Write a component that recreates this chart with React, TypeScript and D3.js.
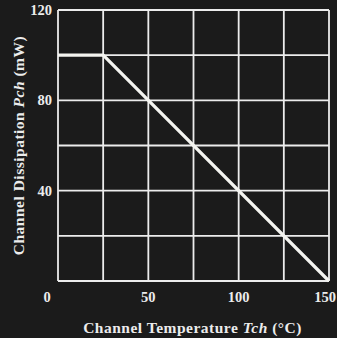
import { useEffect, useRef } from "react";
import * as d3 from "d3";

// derating curve: channel temperature (°C) vs max dissipation (mW)
const tempC = [0, 25, 150];
const powerMW = [100, 100, 0];

const xGridTicks = [0, 25, 50, 75, 100, 125, 150];
const yGridTicks = [0, 20, 40, 60, 80, 100, 120];
const xLabelTicks = [50, 100, 150];
const yLabelTicks = [40, 80, 120];

const W = 337;
const H = 338;
const BG = "#1b1b1b";
const FG = "#ececec";
const FONT = "'Liberation Serif', 'DejaVu Serif', serif";

export default function App() {
  const svgRef = useRef<SVGSVGElement>(null);

  useEffect(() => {
    if (!svgRef.current) return;
    const svg = d3.select(svgRef.current);
    svg.selectAll("*").remove();

    const margin = { top: 10, right: 8, bottom: 57, left: 58 };
    const width = W - margin.left - margin.right;
    const height = H - margin.top - margin.bottom;

    svg.append("rect").attr("width", W).attr("height", H).attr("fill", BG);

    const g = svg.append("g").attr("transform", `translate(${margin.left},${margin.top})`);

    const x = d3.scaleLinear().domain([0, 150]).range([0, width]);
    const y = d3.scaleLinear().domain([0, 120]).range([height, 0]);

    // grid
    g.selectAll(".vgrid")
      .data(xGridTicks)
      .enter()
      .append("line")
      .attr("x1", d => x(d))
      .attr("x2", d => x(d))
      .attr("y1", 0)
      .attr("y2", height)
      .attr("stroke", FG)
      .attr("stroke-width", 1.8);

    g.selectAll(".hgrid")
      .data(yGridTicks)
      .enter()
      .append("line")
      .attr("x1", 0)
      .attr("x2", width)
      .attr("y1", d => y(d))
      .attr("y2", d => y(d))
      .attr("stroke", FG)
      .attr("stroke-width", 1.8);

    // curve
    const pts = tempC.map((t, i) => [t, powerMW[i]] as [number, number]);
    const line = d3.line<[number, number]>()
      .x(d => x(d[0]))
      .y(d => y(d[1]));
    g.append("path")
      .datum(pts)
      .attr("fill", "none")
      .attr("stroke", "#f4f4f0")
      .attr("stroke-width", 3.2)
      .attr("d", line);

    // tick labels
    g.selectAll(".xl")
      .data(xLabelTicks)
      .enter()
      .append("text")
      .attr("x", d => x(d) - (d === 150 ? 4 : 0))
      .attr("y", height + 21)
      .attr("text-anchor", "middle")
      .attr("fill", FG)
      .attr("font-family", FONT)
      .attr("font-weight", "bold")
      .attr("font-size", 14.5)
      .text(d => d);

    g.selectAll(".yl")
      .data(yLabelTicks)
      .enter()
      .append("text")
      .attr("x", -6)
      .attr("y", d => y(d))
      .attr("dy", "0.35em")
      .attr("text-anchor", "end")
      .attr("fill", FG)
      .attr("font-family", FONT)
      .attr("font-weight", "bold")
      .attr("font-size", 14.5)
      .text(d => d);

    // shared origin label
    g.append("text")
      .attr("x", -11)
      .attr("y", height + 21)
      .attr("text-anchor", "middle")
      .attr("fill", FG)
      .attr("font-family", FONT)
      .attr("font-weight", "bold")
      .attr("font-size", 14.5)
      .text("0");

    // axis titles
    const xt = svg.append("text")
      .attr("x", margin.left + width / 2 - 1)
      .attr("y", H - 5)
      .attr("text-anchor", "middle")
      .attr("fill", FG)
      .attr("font-family", FONT)
      .attr("font-weight", "bold")
      .attr("font-size", 15.5)
      .attr("letter-spacing", 0.5);
    xt.append("tspan").text("Channel Temperature ");
    xt.append("tspan").attr("font-style", "italic").text("Tch");
    xt.append("tspan").text(" (°C)");

    const yt = svg.append("text")
      .attr("transform", `translate(24,${margin.top + height / 2}) rotate(-90)`)
      .attr("text-anchor", "middle")
      .attr("fill", FG)
      .attr("font-family", FONT)
      .attr("font-weight", "bold")
      .attr("font-size", 15.5)
      .attr("letter-spacing", 0.5);
    yt.append("tspan").text("Channel Dissipation ");
    yt.append("tspan").attr("font-style", "italic").text("Pch");
    yt.append("tspan").text(" (mW)");
  }, []);

  return (
    <div style={{ position: "absolute", left: 0, top: 0 }}>
      <svg ref={svgRef} width={W} height={H} style={{ display: "block" }}></svg>
    </div>
  );
}
